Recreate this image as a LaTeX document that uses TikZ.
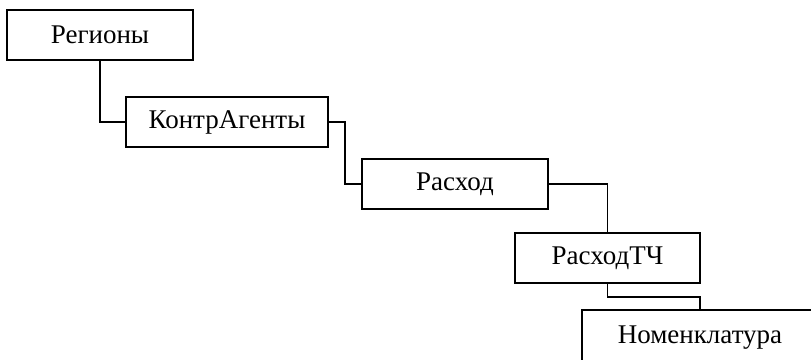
\documentclass[tikz,border=0pt]{standalone}
\usepackage{fontspec}
\setmainfont{Liberation Serif}
\usepackage{tikz}
\usetikzlibrary{positioning}

\begin{document}
\begin{tikzpicture}[
  x=1pt, y=-1pt,
  font=\fontsize{27}{32}\selectfont,
  % Styles
  tablebox/.style={draw,rectangle,line width=1.8pt,minimum height=50pt,inner sep=0pt,outer sep=0pt,align=center},
  linkline/.style={line width=1.8pt},
  ]

% fixed frame, the last box runs past it
\useasboundingbox (0,0) rectangle (811,359);
\clip (0,0) rectangle (811,359);

%--- Tables ---------------------------------------------------------
\node[tablebox, minimum width=186pt, anchor=north west] (regions) at (7,10) {Регионы};
\node[tablebox, minimum width=202pt, below right=37pt and -67pt of regions] (agents) {КонтрАгенты};
\node[tablebox, minimum width=186pt, below right=12pt and 34pt of agents] (expense) {Расход};
\node[tablebox, minimum width=185pt, below right=24pt and -33pt of expense] (expenserows) {РасходТЧ};
% taller, so that its lower edge stays off the page
\node[tablebox, minimum width=236pt, minimum height=60pt, text height=22pt, text depth=16pt,
  below right=27pt and -118pt of expenserows] (goods) {Номенклатура};

%--- Links ----------------------------------------------------------
\draw[linkline] (regions.south) |- (agents.west);
\draw[linkline] (agents.east) -- ++(17,0) |- (expense.west);
\draw[linkline] (expense.east) -| (expenserows.north);
\draw[linkline] (expenserows.south) -- ++(0,14) -| (goods.north);

\end{tikzpicture}
\end{document}
